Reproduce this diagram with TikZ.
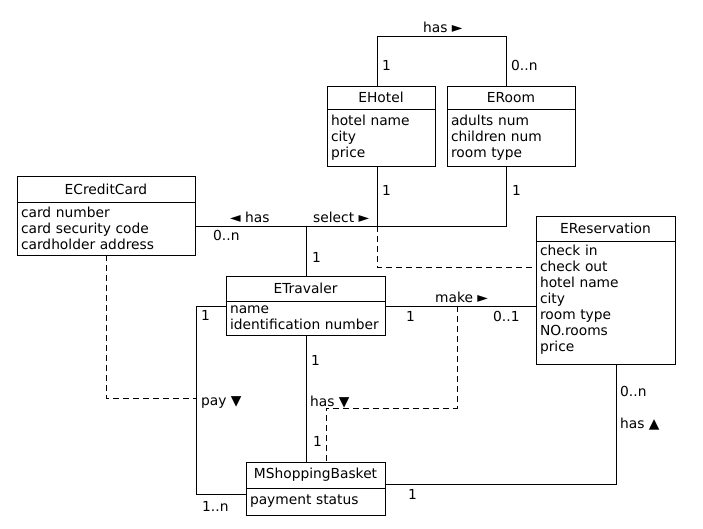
\documentclass[tikz,border=0pt]{standalone}
\usepackage{fontspec}
\setmainfont{DejaVu Sans}
\usetikzlibrary{positioning}

\begin{document}
\begin{tikzpicture}[
  x=1pt, y=-1pt,
  every node/.style={font=\fontsize{13.8}{16}\selectfont},
  clsname/.style={draw, line width=1pt, outer sep=0pt, inner sep=0pt, anchor=north west, minimum height=25pt},
  attrs/.style={draw, line width=1pt, outer sep=0pt, inner xsep=4pt, inner ysep=2pt, align=left, anchor=north},
  lbl/.style={inner sep=0pt, anchor=west},
  link/.style={line width=1pt},
  dep/.style={line width=1pt, dash pattern=on 6pt off 4pt},
]
  \useasboundingbox (0,0) rectangle (703,528);

  % classes
  \node[clsname, minimum width=108pt, minimum height=23pt] (hotel) at (327,86) {EHotel};
  \node[attrs, text width=100pt, minimum height=57pt, below=0pt of hotel] (hotelA) {hotel name\\city\\price};
  \node[clsname, minimum width=128pt, minimum height=23pt] (room) at (447,86) {ERoom};
  \node[attrs, text width=120pt, minimum height=57pt, below=0pt of room] (roomA) {adults num\\children num\\room type};
  \node[clsname, minimum width=178pt, minimum height=26pt] (card) at (17,176) {ECreditCard};
  \node[attrs, text width=170pt, minimum height=53pt, below=0pt of card] (cardA) {card number\\card security code\\cardholder address};
  \node[clsname, minimum width=159pt] (trav) at (226,276) {ETravaler};
  \node[attrs, text width=151pt, minimum height=34pt, below=0pt of trav] (travA) {name\\identification number};
  \node[clsname, minimum width=139pt] (res) at (536,216) {EReservation};
  \node[attrs, text width=131pt, inner ysep=4pt, text depth=105.5pt, below=0pt of res] (resA) {check in\\check out\\hotel name\\city\\room type\\NO.rooms\\price};
  \node[clsname, minimum width=139pt, minimum height=26pt] (basket) at (246,462) {MShoppingBasket};
  \node[attrs, text width=131pt, minimum height=27pt, below=0pt of basket] (basketA) {payment status};

  % bends
  \coordinate (hasL) at (377,36);
  \coordinate (hasR) at (506,36);
  \coordinate (jH) at (377,226);
  \coordinate (jR) at (506,226);
  \coordinate (jT) at (306,226);
  \coordinate (dS) at (377,267);
  \coordinate (mk) at (457,306);
  \coordinate (dM) at (457,408);
  \coordinate (dB) at (326,408);
  \coordinate (pT) at (196,306);
  \coordinate (pB) at (196,494);
  \coordinate (dC) at (106,398);
  \coordinate (rB) at (616,484);

  % associations
  \draw[link] (hotel.north -| hasL) -- (hasL) -- (hasR) -- (room.north -| hasR);
  \draw[link] (hotelA.south -| jH) -- (jH);
  \draw[link] (roomA.south -| jR) -- (jR) -- (jR -| cardA.east);
  \draw[link] (trav.north -| jT) -- (jT);
  \draw[dep] (jH) -- (dS) -- (dS -| resA.west);
  \draw[link] (mk -| travA.east) -- (mk -| resA.west);
  \draw[dep] (mk) -- (dM) -- (dB) -- (dB |- basket.north);
  \draw[link] (travA.south -| jT) -- (jT |- basket.north);
  \draw[link] (pT -| travA.west) -- (pT) -- (pB) -- (pB -| basketA.west);
  \draw[dep] (cardA.south -| dC) -- (dC) -- (dC -| pT);
  \draw[link] (rB -| basket.east) -- (rB) -- (rB |- resA.south);

  % labels
  \node[lbl] (hasLbl) at (423,27) {has ►};
  \node[lbl] (mH1) at (382,65) {1};
  \node[lbl] (mR0) at (511,65) {0..n};
  \node[lbl] (mH2) at (382,190) {1};
  \node[lbl] (mR2) at (512,190) {1};
  \node[lbl] (selLbl) at (313,217) {select ►};
  \node[lbl] (cardLbl) at (230,217) {◄ has};
  \node[lbl] (mC0) at (213,235) {0..n};
  \node[lbl] (mT1) at (312,257) {1};
  \node[lbl] (makeLbl) at (435,297) {make ►};
  \node[lbl] (mT2) at (406,316) {1};
  \node[lbl] (mE01) at (493,316) {0..1};
  \node[lbl] (mT3) at (201,315) {1};
  \node[lbl] (mT4) at (311,360) {1};
  \node[lbl] (payLbl) at (201,402) {pay ▼};
  \node[lbl] (ownLbl) at (310,402) {has ▼};
  \node[lbl] (mB1) at (313,441) {1};
  \node[lbl] (mB2) at (202,506) {1..n};
  \node[lbl] (mB3) at (408,494) {1};
  \node[lbl] (mE0n) at (620,391) {0..n};
  \node[lbl] (resLbl) at (620,424) {has ▲};
\end{tikzpicture}
\end{document}
